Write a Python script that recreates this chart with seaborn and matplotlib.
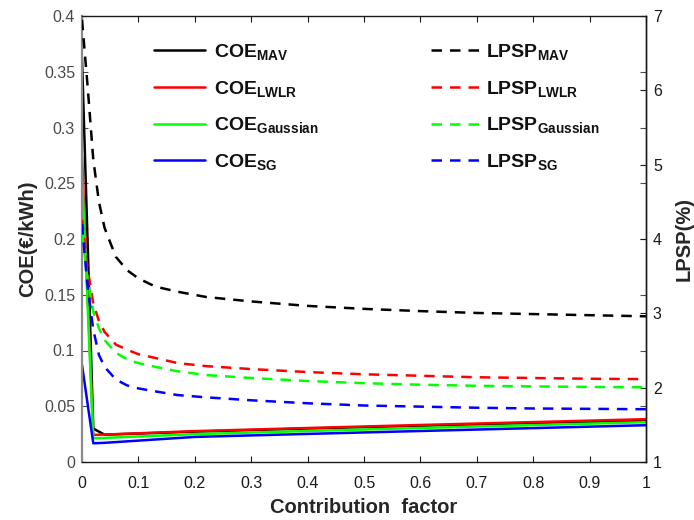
import matplotlib
matplotlib.use("Agg")
import matplotlib.pyplot as plt
import seaborn as sns

# Contribution factor grid for the cost-of-energy curves
contribution_coe = [0.0, 0.02, 0.04, 0.2, 0.4, 0.6, 0.8, 1.0]
coe_mav = [0.362, 0.030, 0.0245, 0.0272, 0.0300, 0.0325, 0.0350, 0.0372]
coe_lwlr = [0.274, 0.0243, 0.0246, 0.0277, 0.0305, 0.0332, 0.0358, 0.0384]
coe_gaussian = [0.260, 0.0213, 0.0216, 0.0250, 0.0278, 0.0305, 0.0331, 0.0357]
coe_sg = [0.087, 0.0168, 0.0172, 0.0225, 0.0252, 0.0278, 0.0304, 0.0330]

# Contribution factor grid for the loss-of-power-supply-probability curves
contribution_lpsp = [0.0, 0.01, 0.02, 0.03, 0.04, 0.06, 0.08, 0.10, 0.13, 0.17,
                     0.22, 0.30, 0.40, 0.50, 0.60, 0.70, 0.80, 0.90, 1.00]
lpsp_mav = [6.95, 6.05, 5.07, 4.50, 4.15, 3.76, 3.58, 3.47, 3.36, 3.29,
            3.22, 3.16, 3.10, 3.06, 3.03, 3.005, 2.99, 2.975, 2.96]
lpsp_lwlr = [4.26, 3.60, 3.13, 2.90, 2.75, 2.58, 2.51, 2.45, 2.40, 2.33,
             2.29, 2.25, 2.21, 2.18, 2.16, 2.14, 2.13, 2.12, 2.115]
lpsp_gaussian = [4.09, 3.45, 3.02, 2.80, 2.64, 2.47, 2.38, 2.33, 2.28, 2.22,
                 2.17, 2.13, 2.09, 2.06, 2.04, 2.025, 2.017, 2.010, 2.005]
lpsp_sg = [4.20, 3.35, 2.78, 2.44, 2.28, 2.11, 2.03, 1.99, 1.95, 1.90,
           1.87, 1.83, 1.79, 1.76, 1.745, 1.73, 1.72, 1.715, 1.71]

method_labels = ["MAV", "LWLR", "Gaussian", "SG"]
method_colors = ["#000000", "#ff0000", "#00ff00", "#0000ff"]

x_ticks = [0, 0.1, 0.2, 0.3, 0.4, 0.5, 0.6, 0.7, 0.8, 0.9, 1.0]
x_tick_labels = ["0", "0.1", "0.2", "0.3", "0.4", "0.5", "0.6", "0.7", "0.8", "0.9", "1"]
coe_ticks = [0, 0.05, 0.1, 0.15, 0.2, 0.25, 0.3, 0.35, 0.4]
coe_tick_labels = ["0", "0.05", "0.1", "0.15", "0.2", "0.25", "0.3", "0.35", "0.4"]
lpsp_ticks = [1, 2, 3, 4, 5, 6, 7]

sns.set_theme(style="white")
plt.rcParams["font.family"] = ["Liberation Sans", "DejaVu Sans"]
plt.rcParams["mathtext.fontset"] = "custom"
plt.rcParams["mathtext.rm"] = "Liberation Sans:bold"
plt.rcParams["mathtext.it"] = "Liberation Sans:bold"
plt.rcParams["mathtext.bf"] = "Liberation Sans:bold"

W, H = 694, 520
fig = plt.figure(figsize=(W / 100, H / 100), dpi=100)
fig.patch.set_facecolor("white")
ax = fig.add_axes([82 / W, 1 - 462 / H, (646 - 82) / W, (462 - 16) / H])
ax2 = ax.twinx()

LW = 1.8
DASH = (4.2, 3.2)

coe_series = [coe_mav, coe_lwlr, coe_gaussian, coe_sg]
lpsp_series = [lpsp_mav, lpsp_lwlr, lpsp_gaussian, lpsp_sg]

coe_handles = []
for vals, color in zip(coe_series, method_colors):
    sns.lineplot(x=contribution_coe, y=vals, ax=ax, color=color, linewidth=LW,
                 estimator=None, sort=False, legend=False)
    coe_handles.append(ax.lines[-1])

lpsp_handles = []
for vals, color in zip(lpsp_series, method_colors):
    sns.lineplot(x=contribution_lpsp, y=vals, ax=ax2, color=color, linewidth=LW,
                 linestyle="--", estimator=None, sort=False, legend=False)
    line = ax2.lines[-1]
    line.set_dashes(DASH)
    lpsp_handles.append(line)

# Axis limits and ticks
ax.set_xlim(0, 1)
ax.set_ylim(0, 0.4)
ax2.set_ylim(1, 7)
ax.set_xticks(x_ticks)
ax.set_xticklabels(x_tick_labels)
ax.set_yticks(coe_ticks)
ax.set_yticklabels(coe_tick_labels)
ax2.set_yticks(lpsp_ticks)
ax2.set_yticklabels([str(t) for t in lpsp_ticks])

left_gray = "#4a4a4a"
ax.tick_params(axis="x", which="both", direction="in", length=4, width=0.8,
               bottom=True, top=True, labelsize=11.5, colors="#1a1a1a", pad=10)
ax.tick_params(axis="y", which="both", direction="in", length=4, width=0.8,
               left=True, right=True, labelsize=11.5, labelcolor=left_gray,
               color=left_gray, pad=5)
ax2.tick_params(axis="y", direction="in", length=4, width=0.8, right=True,
                labelsize=11.5, colors="#1a1a1a", pad=5)

for side in ["top", "bottom", "right"]:
    ax.spines[side].set_color("#1a1a1a")
    ax.spines[side].set_linewidth(1.0)
ax.spines["left"].set_color("#8a8a8a")
ax.spines["left"].set_linewidth(1.6)
for side in ["left", "top", "bottom"]:
    ax2.spines[side].set_visible(False)
ax2.spines["right"].set_color("#1a1a1a")
ax2.spines["right"].set_linewidth(1.0)
ax.grid(False)
ax2.grid(False)

ax.set_xlabel("Contribution  factor", fontsize=14.5, fontweight="bold",
              color="#262626", labelpad=5)
ax.set_ylabel("COE(\u20ac/kWh)", fontsize=14.5, fontweight="bold",
              color="#262626", labelpad=5)
ax2.set_ylabel("LPSP(%)", fontsize=14.5, fontweight="bold",
               color="#262626", labelpad=9)

# Legends: cost of energy (solid) and LPSP (dashed)
coe_labels = [r"COE$_{\mathrm{%s}}$" % m for m in method_labels]
lpsp_labels = [r"LPSP$_{\mathrm{%s}}$" % m for m in method_labels]
leg_props = dict(weight="bold", size=14)

leg1 = ax2.legend(handles=coe_handles, labels=coe_labels, loc="upper left",
                  bbox_to_anchor=(154 / W, 1 - 42 / H), bbox_transform=fig.transFigure,
                  frameon=False, prop=leg_props, handlelength=2.6, handletextpad=0.5,
                  labelspacing=0.86, borderpad=0, borderaxespad=0)
ax2.add_artist(leg1)
leg2 = ax2.legend(handles=lpsp_handles, labels=lpsp_labels, loc="upper left",
                  bbox_to_anchor=(431 / W, 1 - 42 / H), bbox_transform=fig.transFigure,
                  frameon=False, prop=leg_props, handlelength=2.6, handletextpad=0.25,
                  labelspacing=0.86, borderpad=0, borderaxespad=0)
for t in list(leg1.get_texts()) + list(leg2.get_texts()):
    t.set_color("#111111")

fig.savefig("out.png", dpi=100, facecolor="white")
